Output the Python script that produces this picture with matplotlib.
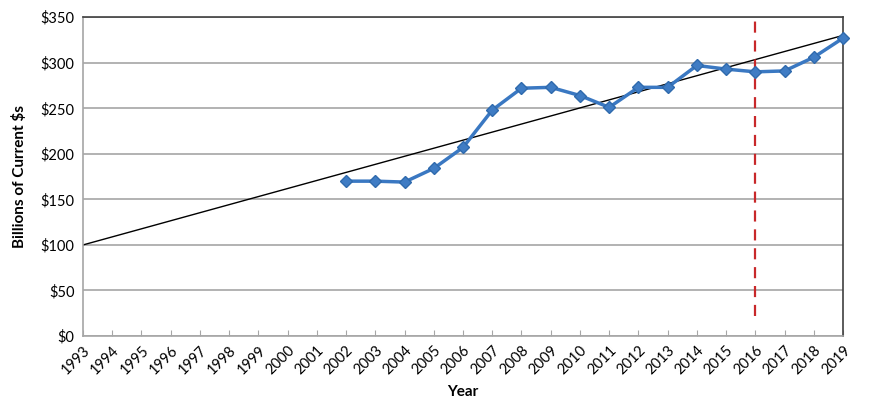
import matplotlib
matplotlib.use("Agg")
import matplotlib.pyplot as plt

years = list(range(1993, 2020))
data_years = list(range(2002, 2020))
spending = [170, 170, 169, 184, 207, 248, 272, 273, 264, 251,
            273, 273, 297, 293, 290, 291, 306, 327]
trend_years = [1993, 2019]
trend_values = [100, 330]
marker_year = 2016
marker_span = [22, 346]
yticks = list(range(0, 351, 50))

plt.rcParams['font.family'] = ['Lato', 'DejaVu Sans']

fig = plt.figure(figsize=(8.7, 4.19), dpi=100)
ax = fig.add_axes([0.0954, 0.198, 0.8736, 0.761])

ax.grid(axis='y', color='#a6a6a6', linewidth=1.2, zorder=0)
ax.plot(trend_years, trend_values, color='black', linewidth=1.0, zorder=2)
ax.plot(data_years, spending, color='#3a78c2', linewidth=2.5, marker='D',
        markersize=6.5, markerfacecolor='#3f7cc4', markeredgecolor='#2f6aad',
        zorder=5, clip_on=False)
ax.plot([marker_year, marker_year], marker_span, color='#c8282a',
        linewidth=1.6, linestyle=(0, (5, 3.5)), zorder=4)

ax.set_xlim(1993, 2019)
ax.set_ylim(0, 350)
ax.set_xticks(years)
ax.set_xticklabels([str(y) for y in years], rotation=45, ha='right',
                   rotation_mode='anchor', fontsize=10.5)
ax.set_yticks(yticks)
ax.set_yticklabels(['\\$%d' % v for v in yticks], fontsize=10.5)
ax.tick_params(axis='x', direction='in', length=4, color='#a6a6a6', pad=5)
ax.tick_params(axis='y', length=0, pad=6)

for side in ['left', 'bottom']:
    ax.spines[side].set_color('#a6a6a6')
    ax.spines[side].set_linewidth(1.2)
for side in ['top', 'right']:
    ax.spines[side].set_color('#404040')
    ax.spines[side].set_linewidth(1.2)

ax.set_xlabel('Year', fontsize=11, fontweight='bold', labelpad=6)
ax.set_ylabel('Billions of Current \\$s', fontsize=11, fontweight='bold', labelpad=10)

fig.savefig('out.png', dpi=100)
